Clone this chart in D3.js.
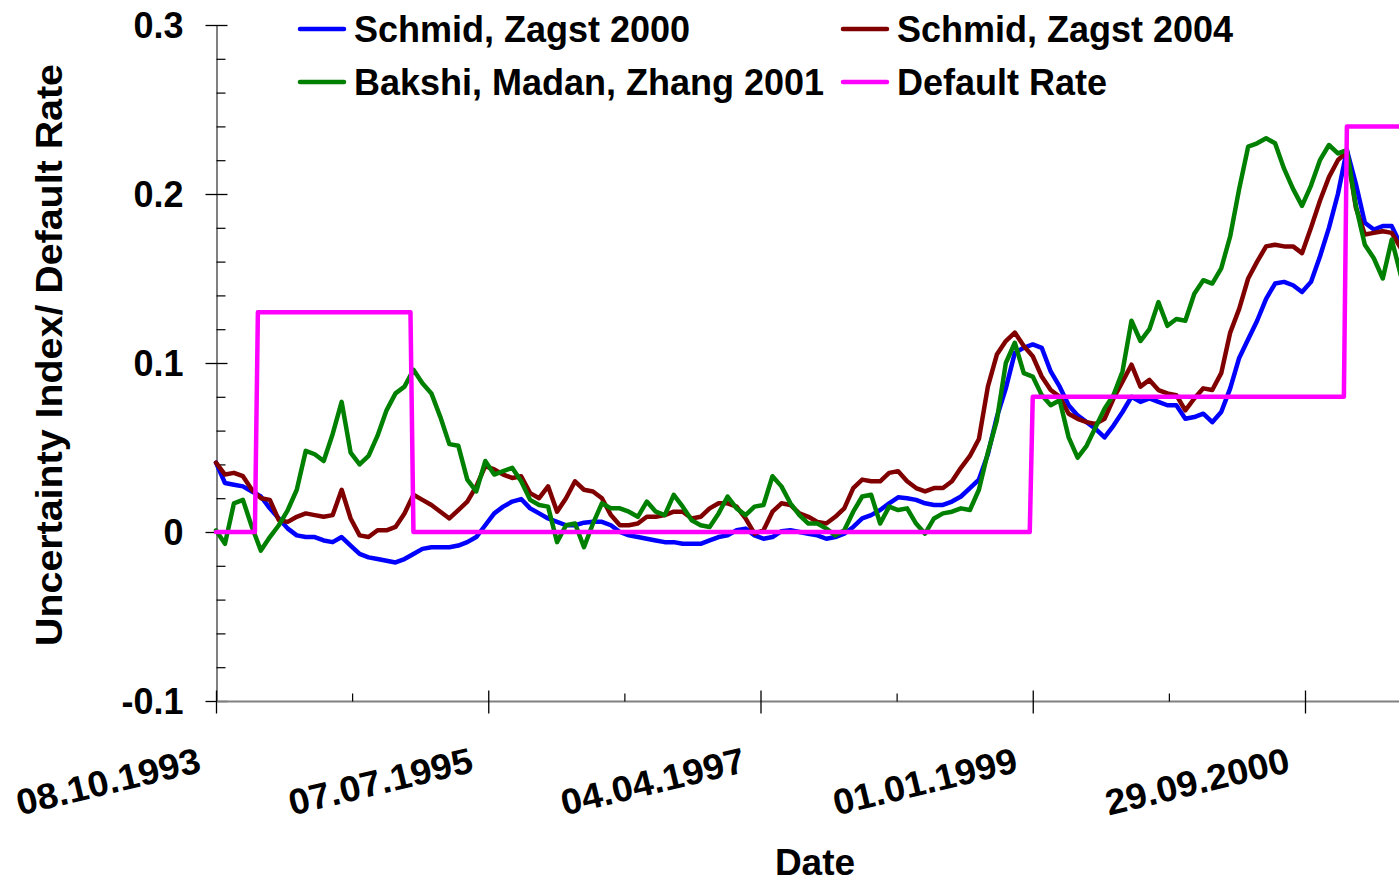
<!DOCTYPE html>
<html><head><meta charset="utf-8">
<script src="https://cdn.jsdelivr.net/npm/d3@7"></script>
<style>html,body{margin:0;padding:0;background:#fff;overflow:hidden}
text{font-family:"Liberation Sans",Arial,sans-serif;font-weight:bold;fill:#000}</style>
</head><body>
<svg id="chart" width="1399" height="882"></svg>
<script>
// ---- data ----
const seriesNames = ["Schmid, Zagst 2000", "Schmid, Zagst 2004", "Bakshi, Madan, Zhang 2001", "Default Rate"];
const seriesColors = ["#0000FF", "#800000", "#008000", "#FF00FF"];
const startDate = "1993-10-08";
const stepDays = 21; // sampled every third week

const schmid2000 = [0.041,0.029,0.028,0.027,0.024,0.021,0.014,0.008,0.002,-0.002,
 -0.003,-0.003,-0.005,-0.006,-0.003,-0.008,-0.013,-0.015,-0.016,-0.017,
 -0.018,-0.016,-0.013,-0.010,-0.009,-0.009,-0.009,-0.008,-0.006,-0.003,
 0.004,0.011,0.015,0.018,0.0195,0.014,0.011,0.008,0.006,0.004,
 0.004,0.0055,0.006,0.006,0.004,0.000,-0.002,-0.003,-0.004,-0.005,
 -0.006,-0.006,-0.007,-0.007,-0.007,-0.005,-0.003,-0.002,0.001,0.002,
 -0.002,-0.004,-0.003,0.0005,0.001,0.000,-0.001,-0.002,-0.004,-0.003,
 -0.001,0.003,0.008,0.010,0.013,0.017,0.0205,0.020,0.019,0.017,
 0.016,0.016,0.018,0.021,0.026,0.031,0.046,0.068,0.085,0.106,
 0.109,0.111,0.109,0.095,0.086,0.075,0.069,0.065,0.061,0.056,
 0.063,0.071,0.080,0.077,0.079,0.077,0.075,0.075,0.067,0.068,
 0.070,0.065,0.071,0.085,0.103,0.114,0.125,0.138,0.147,0.148,
 0.146,0.142,0.148,0.163,0.180,0.200,0.226,0.206,0.183,0.179,
 0.181,0.181,0.170];

const schmid2004 = [0.041,0.034,0.035,0.033,0.025,0.020,0.019,0.007,0.006,0.009,
 0.011,0.010,0.009,0.010,0.025,0.008,-0.002,-0.003,0.001,0.001,
 0.003,0.011,0.022,0.019,0.016,0.012,0.008,0.013,0.018,0.027,
 0.039,0.037,0.034,0.032,0.033,0.023,0.020,0.027,0.012,0.020,
 0.030,0.025,0.024,0.020,0.010,0.004,0.004,0.005,0.009,0.009,
 0.010,0.012,0.012,0.008,0.009,0.014,0.017,0.017,0.015,0.008,
 -0.001,0.001,0.012,0.017,0.016,0.011,0.009,0.006,0.005,0.009,
 0.014,0.026,0.031,0.030,0.030,0.035,0.036,0.030,0.026,0.024,
 0.026,0.026,0.030,0.038,0.045,0.055,0.086,0.105,0.113,0.118,
 0.110,0.104,0.092,0.084,0.080,0.070,0.067,0.065,0.064,0.067,
 0.079,0.089,0.099,0.086,0.090,0.084,0.082,0.081,0.072,0.079,
 0.085,0.084,0.094,0.118,0.132,0.150,0.160,0.169,0.170,0.169,
 0.169,0.165,0.180,0.196,0.210,0.220,0.225,0.192,0.176,0.177,
 0.178,0.177,0.168];

const bakshi2001 = [0.001,-0.007,0.017,0.019,0.003,-0.011,-0.003,0.004,0.013,0.025,
 0.048,0.046,0.042,0.058,0.077,0.047,0.040,0.045,0.057,0.072,
 0.082,0.086,0.096,0.088,0.082,0.068,0.052,0.051,0.031,0.024,
 0.042,0.034,0.036,0.038,0.030,0.019,0.016,0.015,-0.006,0.004,
 0.005,-0.009,0.005,0.017,0.014,0.014,0.012,0.009,0.018,0.012,
 0.010,0.022,0.015,0.007,0.004,0.003,0.011,0.021,0.014,0.010,
 0.015,0.016,0.033,0.027,0.017,0.010,0.005,0.005,0.002,-0.002,
 0.001,0.012,0.021,0.022,0.005,0.015,0.013,0.014,0.005,-0.001,
 0.008,0.011,0.012,0.014,0.013,0.025,0.047,0.066,0.100,0.112,
 0.094,0.092,0.081,0.075,0.078,0.056,0.044,0.051,0.062,0.073,
 0.081,0.095,0.125,0.113,0.120,0.136,0.122,0.126,0.125,0.141,
 0.149,0.147,0.156,0.175,0.203,0.228,0.230,0.233,0.230,0.215,
 0.203,0.193,0.205,0.220,0.229,0.224,0.226,0.193,0.170,0.162,
 0.150,0.173,0.152];

const defaultDates = ["1993-10-08","1994-01-07","1994-01-14","1995-01-06","1995-01-13",
 "1998-12-25","1999-01-01","2000-12-29","2001-01-05","2001-07-06"];
const defaultRate = [0,0,0.13,0.13,0,0,0.08,0.08,0.24,0.24];

const xTickLabels = ["08.10.1993","07.07.1995","04.04.1997","01.01.1999","29.09.2000"];
const yTickValues = [-0.1,0,0.1,0.2,0.3];
const yTickLabels = ["-0.1","0","0.1","0.2","0.3"];
const yMinorValues = [-0.08,-0.06,-0.04,-0.02,0.02,0.04,0.06,0.08,0.12,0.14,0.16,0.18,0.22,0.24,0.26,0.28];

// ---- scales ----
const parse = d3.utcParse("%Y-%m-%d");
const parseTick = d3.utcParse("%d.%m.%Y");
const fmtTick = d3.utcFormat("%d.%m.%Y");
const tickDates = xTickLabels.map(parseTick);
const x = d3.scaleUtc().domain([tickDates[0], tickDates[tickDates.length-1]]).range([216, 1305]);
const y = d3.scaleLinear().domain([-0.1, 0.3]).range([701, 25]);

const start = parse(startDate);
const sampleDates = schmid2000.map((_, i) => d3.utcDay.offset(start, i * stepDays));

const svg = d3.select("#chart");

// ---- axes ----
const gy = svg.append("g").attr("transform", "translate(216.5,0)");
gy.call(d3.axisLeft(y).tickValues(yTickValues).tickFormat((d, i) => yTickLabels[i]).tickSizeOuter(0));
gy.select(".domain").attr("stroke", "#808080").attr("stroke-width", 2);
gy.selectAll(".tick line").attr("x1", 11).attr("x2", -11).attr("stroke", "#000").attr("stroke-width", 1.3);
gy.selectAll(".tick text").attr("font-size", 36).attr("dy", "0.36em").attr("x", -33);
const gyMinor = svg.append("g").attr("transform", "translate(216.5,0)");
gyMinor.call(d3.axisRight(y).tickValues(yMinorValues).tickSize(9).tickFormat(""));
gyMinor.select(".domain").remove();
gyMinor.selectAll(".tick line").attr("stroke", "#000").attr("stroke-width", 1.2);

// x axis
svg.append("line").attr("x1", 216).attr("x2", 1399).attr("y1", 701.5).attr("y2", 701.5)
  .attr("stroke", "#808080").attr("stroke-width", 2);
const gx = svg.append("g").attr("transform", "translate(0,701.5)");
gx.call(d3.axisBottom(x).tickValues(tickDates).tickFormat(fmtTick).tickSizeOuter(0));
gx.select(".domain").remove();
gx.selectAll(".tick line").attr("y1", -11).attr("y2", 12).attr("stroke", "#000").attr("stroke-width", 1.3);
gx.selectAll(".tick text").attr("font-size", 36).attr("y", 0).attr("dy", 0)
  .attr("text-anchor", "end").attr("textLength", 188).attr("lengthAdjust", "spacingAndGlyphs")
  .attr("transform", "translate(-14,70) rotate(-13.5)");
const minorX = [];
for (let k = 0; k < tickDates.length; k++) {
  const a = tickDates[k], b = d3.utcDay.offset(a, 637);
  minorX.push(new Date((+a + +b) / 2));
}
const gxMinor = svg.append("g").attr("transform", "translate(0,701.5)");
gxMinor.call(d3.axisTop(x).tickValues(minorX).tickSize(8).tickFormat(""));
gxMinor.select(".domain").remove();
gxMinor.selectAll(".tick line").attr("stroke", "#000").attr("stroke-width", 1.2);

// titles
svg.append("text").attr("transform", "translate(62,355) rotate(-90)")
  .attr("text-anchor", "middle").attr("font-size", 36)
  .attr("textLength", 582).attr("lengthAdjust", "spacingAndGlyphs")
  .text("Uncertainty Index/ Default Rate");
svg.append("text").attr("x", 815).attr("y", 875).attr("text-anchor", "middle")
  .attr("font-size", 37).text("Date");

// ---- lines ----
const lineGen = d3.line().x(d => x(d[0])).y(d => y(d[1])).curve(d3.curveLinear);
const seriesData = [
  sampleDates.map((d, i) => [d, schmid2000[i]]),
  sampleDates.map((d, i) => [d, schmid2004[i]]),
  sampleDates.map((d, i) => [d, bakshi2001[i]]),
  defaultDates.map((d, i) => [parse(d), defaultRate[i]])
];
svg.append("g").selectAll("path").data(seriesData).join("path")
  .attr("d", lineGen).attr("fill", "none")
  .attr("stroke", (d, i) => seriesColors[i]).attr("stroke-width", 4.5)
  .attr("stroke-linejoin", "round").attr("stroke-linecap", "round");

// ---- legend ----
const legendPos = [[300, 29], [843, 29], [300, 82], [843, 82]];
const lg = svg.append("g").selectAll("g").data(seriesNames).join("g")
  .attr("transform", (d, i) => `translate(${legendPos[i][0]},${legendPos[i][1]})`);
lg.append("line").attr("x1", 0).attr("x2", 44).attr("y1", 0).attr("y2", 0)
  .attr("stroke", (d, i) => seriesColors[i]).attr("stroke-width", 4.5).attr("stroke-linecap", "round");
lg.append("text").attr("x", 54).attr("y", 13).attr("font-size", 36).text(d => d);
</script>
</body></html>
